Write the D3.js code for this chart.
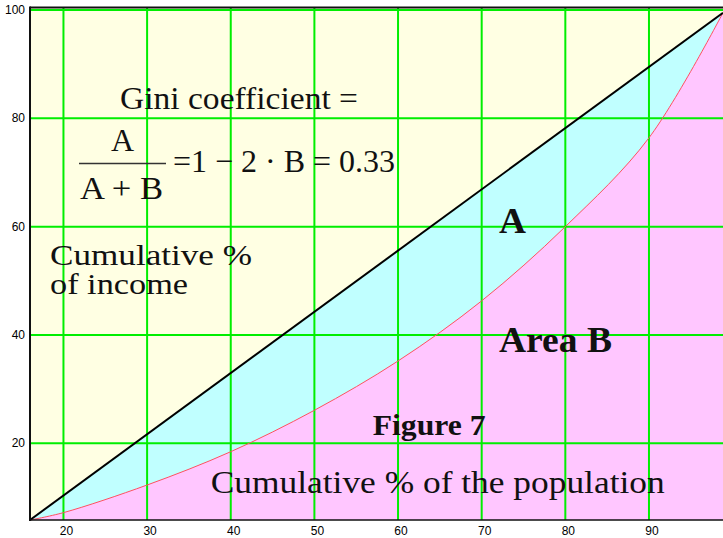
<!DOCTYPE html>
<html>
<head>
<meta charset="utf-8">
<script src="https://cdn.jsdelivr.net/npm/d3@7"></script>
<style>
  body { margin: 0; background: #fff; }
  svg { display: block; }
  .tick-label { font-family: "Liberation Sans", Arial, sans-serif; font-size: 12px; fill: #000; }
  .serif { font-family: "Liberation Serif", "Times New Roman", serif; fill: #111; }
</style>
</head>
<body>
<svg id="chart" width="723" height="538"></svg>
<script>
// axis ticks
const xTicks = [20, 30, 40, 50, 60, 70, 80, 90];
const yTicks = [20, 40, 60, 80, 100];

// line of equality (corner to corner of the plot)
const equalityX = [16, 98.85];
const equalityY = [5.84, 99.5];

// Lorenz curve
const lorenzX = [16, 20, 30, 40, 50, 60, 70, 80, 90, 98.85];
const lorenzY = [5.84, 7.2, 12.3, 18.45, 26.1, 35.2, 46.3, 60, 76.4, 99.5];

const svg = d3.select("#chart");

const plotLeft = 30, plotRight = 723, plotTop = 10, plotBottom = 520;

const x = d3.scaleLinear().domain([16, 98.85]).range([plotLeft, plotRight]);
const y = d3.scaleLinear().domain([5.84, 100]).range([plotBottom, plotTop]);

const equality = equalityX.map((v, i) => ({ x: v, y: equalityY[i] }));
const lorenz = lorenzX.map((v, i) => ({ x: v, y: lorenzY[i] }));

// background
svg.append("rect")
  .attr("x", plotLeft).attr("y", 7)
  .attr("width", plotRight - plotLeft).attr("height", plotBottom - 7)
  .attr("fill", "#ffffe3");

// area A (between equality line and curve) - cyan under the diagonal
const areaFn = d3.area()
  .x(d => x(d.x))
  .y0(plotBottom)
  .y1(d => y(d.y));

svg.append("path")
  .datum(equality)
  .attr("d", areaFn)
  .attr("fill", "#c0ffff");

// area B under the Lorenz curve
svg.append("path")
  .datum(lorenz)
  .attr("d", areaFn.curve(d3.curveCatmullRom))
  .attr("fill", "#ffc6ff");

// gridlines
svg.append("g")
  .selectAll("line")
  .data(xTicks)
  .join("line")
  .attr("x1", d => x(d)).attr("x2", d => x(d))
  .attr("y1", 7).attr("y2", plotBottom)
  .attr("stroke", "#00ee00")
  .attr("stroke-width", 2);

svg.append("g")
  .selectAll("line")
  .data(yTicks)
  .join("line")
  .attr("x1", plotLeft).attr("x2", plotRight)
  .attr("y1", d => y(d)).attr("y2", d => y(d))
  .attr("stroke", "#00ee00")
  .attr("stroke-width", 2);

// Lorenz curve
svg.append("path")
  .datum(lorenz)
  .attr("d", d3.line().x(d => x(d.x)).y(d => y(d.y)).curve(d3.curveCatmullRom))
  .attr("fill", "none")
  .attr("stroke", "#ff5060")
  .attr("stroke-width", 1);

// line of equality
svg.append("path")
  .datum(equality)
  .attr("d", d3.line().x(d => x(d.x)).y(d => y(d.y)))
  .attr("fill", "none")
  .attr("stroke", "#000")
  .attr("stroke-width", 2);

// frame: top, left, bottom
svg.append("line").attr("x1", plotLeft).attr("x2", plotRight).attr("y1", 7.5).attr("y2", 7.5)
  .attr("stroke", "#111").attr("stroke-width", 2);
svg.append("line").attr("x1", plotLeft).attr("x2", plotLeft).attr("y1", 6.5).attr("y2", plotBottom + 1)
  .attr("stroke", "#111").attr("stroke-width", 2);
svg.append("line").attr("x1", plotLeft).attr("x2", plotRight).attr("y1", plotBottom).attr("y2", plotBottom)
  .attr("stroke", "#111").attr("stroke-width", 1.5);

// tick labels
svg.append("g")
  .selectAll("text")
  .data(xTicks)
  .join("text")
  .attr("class", "tick-label")
  .attr("x", d => x(d) + 3)
  .attr("y", 535)
  .attr("text-anchor", "middle")
  .text(d => d);

svg.append("g")
  .selectAll("text")
  .data(yTicks)
  .join("text")
  .attr("class", "tick-label")
  .attr("x", 25)
  .attr("y", d => y(d) + 4)
  .attr("text-anchor", "end")
  .text(d => d);

// annotations
function label(txt, px, py, size, len, bold) {
  const t = svg.append("text")
    .attr("class", "serif")
    .attr("x", px).attr("y", py)
    .style("font-size", size + "px")
    .style("font-weight", bold ? "bold" : "normal")
    .text(txt);
  if (len) t.attr("textLength", len).attr("lengthAdjust", "spacingAndGlyphs");
  return t;
}

label("Gini coefficient =", 120, 109, 31, 238);
label("A", 122.5, 150.7, 32).attr("text-anchor", "middle");
svg.append("line").attr("x1", 79).attr("x2", 166).attr("y1", 163.5).attr("y2", 163.5)
  .attr("stroke", "#333").attr("stroke-width", 1.5);
label("A + B", 80, 199, 32, 83);
label("=1 \u2212 2 \u00b7 B = 0.33", 173, 171.7, 32, 222);

label("Cumulative %", 50, 265, 29, 202);
label("of income", 50, 294, 29, 138);

label("A", 499, 232.7, 36, 27, true);
label("Area B", 499, 352.3, 35, 113, true);
label("Figure 7", 372.7, 435, 29, 113, true);
label("Cumulative % of the population", 210.7, 493.3, 32, 454);
</script>
</body>
</html>
